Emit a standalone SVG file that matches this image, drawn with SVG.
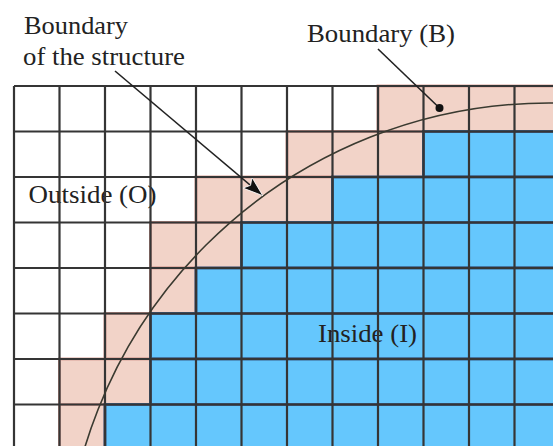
<svg xmlns="http://www.w3.org/2000/svg" width="553" height="446" viewBox="0 0 553 446">
<style>
.pink{fill:#F2D3C8;stroke:#D9A39A;stroke-width:3}
.blue{fill:#65C7FD;stroke:#3C5E86;stroke-width:3}
.grid line{stroke:#353535;stroke-width:2.2}
.lbl{font-family:"Liberation Serif","Times New Roman",serif;font-size:25px;fill:#222}
.ptr{stroke:#222;stroke-width:1.6;fill:none}
</style>
<defs>
<marker id="ah" viewBox="0 0 20 14" refX="19" refY="7" markerWidth="20" markerHeight="14" markerUnits="userSpaceOnUse" orient="auto">
<path d="M0,0 L20,7 L0,14 L4,7 Z" fill="#111" stroke="#fff" stroke-width="0.8"/>
</marker>
</defs>
<rect width="553" height="446" fill="#fff"/>
<g id="boundary-cells">
<rect class="pink" x="378" y="86" width="182" height="45.5"/>
<rect class="pink" x="287" y="131.5" width="136.5" height="45.5"/>
<rect class="pink" x="196" y="177" width="136.5" height="45.5"/>
<rect class="pink" x="150.5" y="222.5" width="91" height="45.5"/>
<rect class="pink" x="150.5" y="268" width="45.5" height="45.5"/>
<rect class="pink" x="105" y="313.5" width="45.5" height="45.5"/>
<rect class="pink" x="59.5" y="359" width="91" height="45.5"/>
<rect class="pink" x="59.5" y="404.5" width="45.5" height="50"/>
</g>
<g id="inside-cells">
<rect class="blue" x="423.5" y="131.5" width="140" height="45.5"/>
<rect class="blue" x="332.5" y="177" width="230" height="45.5"/>
<rect class="blue" x="241.5" y="222.5" width="320" height="45.5"/>
<rect class="blue" x="196" y="268" width="365" height="45.5"/>
<rect class="blue" x="150.5" y="313.5" width="410" height="45.5"/>
<rect class="blue" x="150.5" y="359" width="410" height="45.5"/>
<rect class="blue" x="105" y="404.5" width="455" height="50"/>
</g>
<g id="region-labels">
<text id="outside-label" class="lbl" x="28.5" y="202.5" textLength="128" lengthAdjust="spacingAndGlyphs">Outside (O)</text>
<text id="inside-label" class="lbl" x="318" y="341.5" textLength="99" lengthAdjust="spacingAndGlyphs">Inside (I)</text>
</g>
<g class="grid" id="grid">
<line x1="14" y1="86" x2="553" y2="86"/>
<line x1="14" y1="131.5" x2="553" y2="131.5"/>
<line x1="14" y1="177" x2="553" y2="177"/>
<line x1="14" y1="222.5" x2="553" y2="222.5"/>
<line x1="14" y1="268" x2="553" y2="268"/>
<line x1="14" y1="313.5" x2="553" y2="313.5"/>
<line x1="14" y1="359" x2="553" y2="359"/>
<line x1="14" y1="404.5" x2="553" y2="404.5"/>
<line x1="14" y1="86" x2="14" y2="446"/>
<line x1="59.5" y1="86" x2="59.5" y2="446"/>
<line x1="105" y1="86" x2="105" y2="446"/>
<line x1="150.5" y1="86" x2="150.5" y2="446"/>
<line x1="196" y1="86" x2="196" y2="446"/>
<line x1="241.5" y1="86" x2="241.5" y2="446"/>
<line x1="287" y1="86" x2="287" y2="446"/>
<line x1="332.5" y1="86" x2="332.5" y2="446"/>
<line x1="378" y1="86" x2="378" y2="446"/>
<line x1="423.5" y1="86" x2="423.5" y2="446"/>
<line x1="469" y1="86" x2="469" y2="446"/>
<line x1="514.5" y1="86" x2="514.5" y2="446"/>
</g>
<g id="structure-boundary">
<circle cx="549" cy="588" r="485" fill="none" stroke="#3a3a30" stroke-width="1.6"/>
</g>
<g id="titles">
<text id="title-structure-1" class="lbl" x="24" y="33.5" textLength="104" lengthAdjust="spacingAndGlyphs">Boundary</text>
<text id="title-structure-2" class="lbl" x="23" y="64.5" textLength="162" lengthAdjust="spacingAndGlyphs">of the structure</text>
<text id="title-boundary-b" class="lbl" x="307" y="41.5" textLength="148" lengthAdjust="spacingAndGlyphs">Boundary (B)</text>
</g>
<g id="connectors">
<line class="ptr" x1="115" y1="71" x2="262" y2="195" marker-end="url(#ah)"/>
<line class="ptr" x1="378" y1="49" x2="439.5" y2="108"/>
<circle cx="439.5" cy="108" r="4" fill="#111"/>
</g>
</svg>
